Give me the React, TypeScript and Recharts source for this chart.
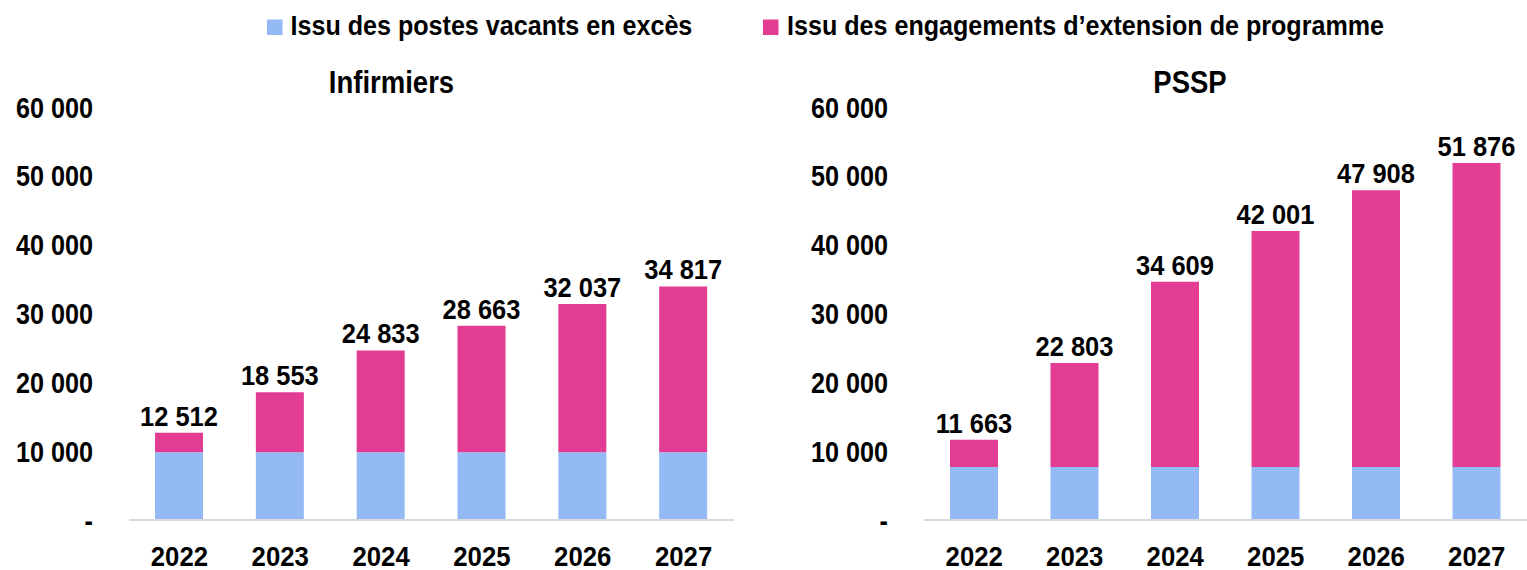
import React from 'react';
import { BarChart, Bar, XAxis, YAxis, LabelList } from 'recharts';

const years = ['2022', '2023', '2024', '2025', '2026', '2027'];

// Infirmiers
const infVacants = [9850, 9850, 9850, 9850, 9850, 9850];
const infExtension = [2810, 8720, 14780, 18380, 21530, 24090];
const infTotals = ['12 512', '18 553', '24 833', '28 663', '32 037', '34 817'];

// PSSP
const psspVacants = [7700, 7700, 7700, 7700, 7700, 7700];
const psspExtension = [3963, 15103, 26909, 34301, 40208, 44176];
const psspTotals = ['11 663', '22 803', '34 609', '42 001', '47 908', '51 876'];

const yTicks = [0, 10000, 20000, 30000, 40000, 50000, 60000];
const legendNames = ['Issu des postes vacants en excès', 'Issu des engagements d’extension de programme'];

const BLUE = '#94BAF6';
const PINK = '#E33C93';
const FONT = "'Liberation Sans', Arial, sans-serif";

const fmt = (v: number) => (v === 0 ? '-' : v.toLocaleString('fr-FR').replace(/\u202f|\u00a0/g, ' '));

// bold text squeezed horizontally (no Arial Narrow here), y is the baseline
function Narrow({ x, y, anchor, size = 28, sx = 0.9, children }: {
  x: number; y: number; anchor: 'start' | 'middle' | 'end'; size?: number; sx?: number; children: React.ReactNode;
}) {
  return (
    <text transform={`translate(${x} ${y}) scale(${sx} 1)`} textAnchor={anchor} fontSize={size} fontWeight={700} fontFamily={FONT} fill="#000">
      {children}
    </text>
  );
}

const XTick = (p: any) => <Narrow x={p.x} y={p.y + 20} anchor="middle" sx={0.92}>{p.payload.value}</Narrow>;
const YTick = (p: any) => <Narrow x={p.x} y={p.y + 10.5} anchor="end" size={30} sx={0.84}>{fmt(p.payload.value)}</Narrow>;
const TopLabel = (p: any) => <Narrow x={p.x + p.width / 2} y={p.y - 7} anchor="middle" sx={0.91}>{p.value}</Narrow>;

function Panel({ vacants, extension, totals, width, yWidth, right }: {
  vacants: number[]; extension: number[]; totals: string[]; width: number; yWidth: number; right: number;
}) {
  const data = years.map((y, i) => ({ year: y, vacants: vacants[i], extension: extension[i], total: totals[i] }));
  return (
    <BarChart width={width} height={570} data={data} margin={{ top: 107, right, left: 0, bottom: 0 }} barSize={48}>
      <XAxis
        dataKey="year"
        height={50}
        tick={XTick}
        tickLine={false}
        axisLine={{ stroke: '#d9d9d9', strokeWidth: 2 }}
        tickMargin={20}
      />
      <YAxis
        width={yWidth}
        domain={[0, 60000]}
        ticks={yTicks}
        tick={YTick}
        tickLine={false}
        axisLine={false}
        tickMargin={30}
      />
      <Bar dataKey="vacants" stackId="a" fill={BLUE} isAnimationActive={false} />
      <Bar dataKey="extension" stackId="a" fill={PINK} isAnimationActive={false}>
        <LabelList dataKey="total" content={TopLabel} />
      </Bar>
    </BarChart>
  );
}

export default function App() {
  return (
    <div style={{ position: 'absolute', left: 0, top: 0, width: 1527, height: 570, background: '#fff', overflow: 'hidden' }}>
      <div style={{ position: 'absolute', left: 0, top: 0 }}>
        <Panel vacants={infVacants} extension={infExtension} totals={infTotals} width={760} yWidth={129} right={26} />
      </div>
      <div style={{ position: 'absolute', left: 770, top: 0 }}>
        <Panel vacants={psspVacants} extension={psspExtension} totals={psspTotals} width={757} yWidth={154} right={0} />
      </div>
      <svg width={1527} height={110} style={{ position: 'absolute', left: 0, top: 0, pointerEvents: 'none' }}>
        <rect x={267} y={19.5} width={15.5} height={15.5} fill={BLUE} />
        <Narrow x={290.5} y={34.7} anchor="start" size={27} sx={0.93}>{legendNames[0]}</Narrow>
        <rect x={763} y={19.5} width={15.5} height={15.5} fill={PINK} />
        <Narrow x={787} y={34.7} anchor="start" size={27} sx={0.93}>{legendNames[1]}</Narrow>
        <Narrow x={391.5} y={93.3} anchor="middle" size={32} sx={0.86}>Infirmiers</Narrow>
        <Narrow x={1190} y={93.3} anchor="middle" size={32} sx={0.86}>PSSP</Narrow>
      </svg>
    </div>
  );
}
